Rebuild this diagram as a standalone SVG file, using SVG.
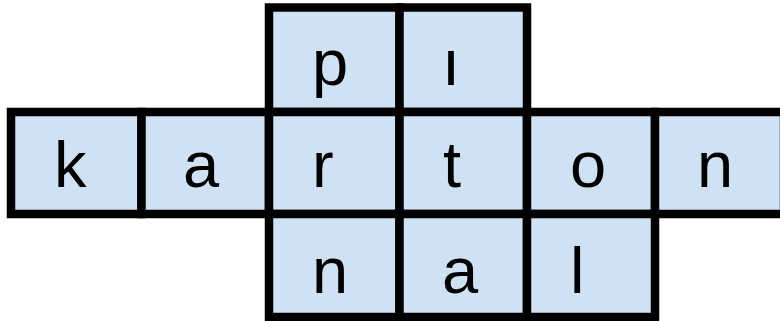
<svg xmlns="http://www.w3.org/2000/svg" width="780" height="321" viewBox="0 0 780 321">
<style>
.c{fill:#cfe2f3;stroke:#000;stroke-width:8.5}
.t{font-family:"Liberation Sans",Arial,sans-serif;font-size:65px;fill:#000}
</style>
<rect width="780" height="321" fill="#fff"/>
<g id="cell-p"><rect class="c" x="269" y="7.5" width="130.5" height="104.5"/><text class="t" x="312" y="85">p</text></g>
<g id="cell-i"><rect class="c" x="399.5" y="7.5" width="127.5" height="104.5"/><text class="t" x="442" y="85">ı</text></g>
<g id="cell-k"><rect class="c" x="11" y="112" width="130.5" height="102"/><text class="t" x="54" y="187">k</text></g>
<g id="cell-a1"><rect class="c" x="141.5" y="112" width="127.5" height="102"/><text class="t" x="183" y="187">a</text></g>
<g id="cell-r"><rect class="c" x="269" y="112" width="130.5" height="102"/><text class="t" x="312" y="187">r</text></g>
<g id="cell-t"><rect class="c" x="399.5" y="112" width="127.5" height="102"/><text class="t" x="443" y="187">t</text></g>
<g id="cell-o"><rect class="c" x="527" y="112" width="128" height="102"/><text class="t" x="570" y="187">o</text></g>
<g id="cell-n1"><rect class="c" x="655" y="112" width="129" height="102"/><text class="t" x="697" y="187">n</text></g>
<g id="cell-n2"><rect class="c" x="269" y="214" width="130.5" height="103"/><text class="t" x="312" y="293">n</text></g>
<g id="cell-a2"><rect class="c" x="399.5" y="214" width="127.5" height="103"/><text class="t" x="442" y="293">a</text></g>
<g id="cell-l"><rect class="c" x="527" y="214" width="128" height="103"/><text class="t" x="570" y="293">l</text></g>
<g id="connectors"></g>
</svg>
